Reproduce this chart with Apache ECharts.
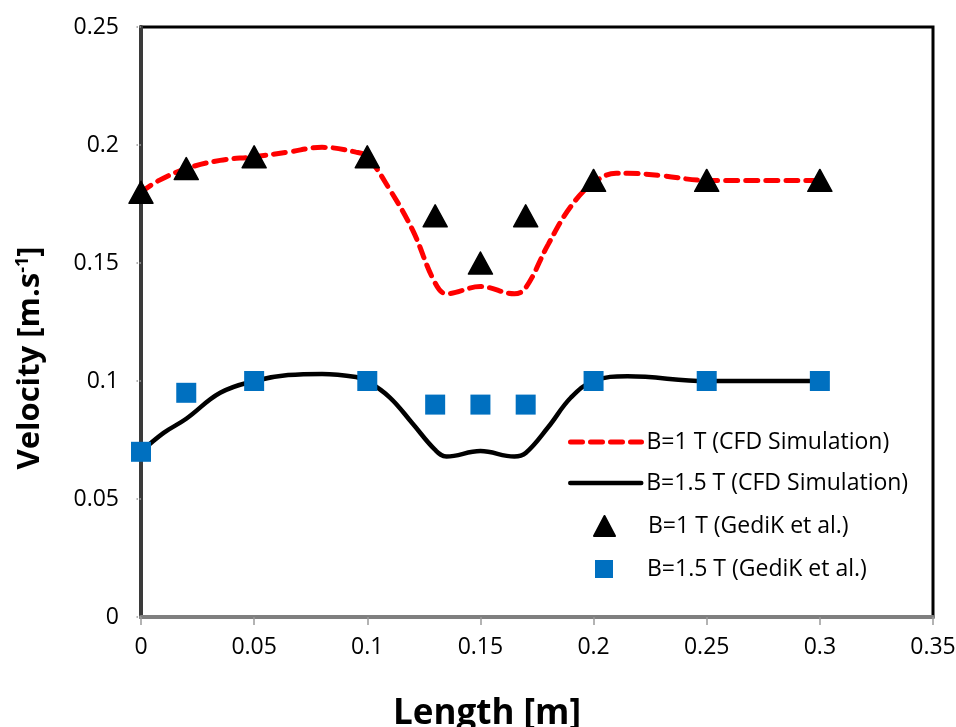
<!DOCTYPE html>
<html>
<head>
<meta charset="utf-8">
<script src="https://cdn.jsdelivr.net/npm/echarts@6/dist/echarts.min.js"></script>
<style>html,body{margin:0;padding:0;background:#fff}#c{width:956px;height:727px}</style>
</head>
<body>
<div id="c"></div>
<script>
// Experimental points (GediK et al.)
var expX = [0, 0.02, 0.05, 0.1, 0.13, 0.15, 0.17, 0.2, 0.25, 0.3];
var expB1 = [0.18, 0.19, 0.195, 0.195, 0.17, 0.15, 0.17, 0.185, 0.185, 0.185];
var expB15 = [0.07, 0.095, 0.1, 0.1, 0.09, 0.09, 0.09, 0.1, 0.1, 0.1];
// CFD simulation curves
var cfdX1 = [0, 0.008, 0.02, 0.035, 0.05, 0.065, 0.08, 0.095, 0.1, 0.11, 0.12, 0.13, 0.135, 0.15, 0.165, 0.17, 0.18, 0.19, 0.2, 0.21, 0.215, 0.23, 0.25, 0.3];
var cfdB1 = [0.18, 0.185, 0.19, 0.1935, 0.195, 0.197, 0.199, 0.197, 0.195, 0.181, 0.164, 0.1415, 0.137, 0.14, 0.137, 0.1395, 0.158, 0.174, 0.184, 0.188, 0.188, 0.187, 0.185, 0.185];
var cfdX15 = [0, 0.01, 0.02, 0.035, 0.05, 0.065, 0.08, 0.095, 0.1, 0.11, 0.12, 0.13, 0.135, 0.15, 0.165, 0.17, 0.18, 0.19, 0.2, 0.215, 0.25, 0.3];
var cfdB15 = [0.07, 0.078, 0.084, 0.095, 0.1, 0.1025, 0.103, 0.1017, 0.1, 0.093, 0.082, 0.0708, 0.068, 0.0703, 0.068, 0.0695, 0.0805, 0.093, 0.1, 0.102, 0.1, 0.1];
var names = ['B=1 T (CFD Simulation)', 'B=1.5 T (CFD Simulation)', 'B=1 T (GediK et al.)', 'B=1.5 T (GediK et al.)'];
var xTicks = {min: 0, max: 0.35, interval: 0.05};
var yTicks = {min: 0, max: 0.25, interval: 0.05};

function zip(a, b) { return a.map(function (v, i) { return [v, b[i]]; }); }

var FONT = 'Open Sans';
var legTxt = {fontSize: 23, lineHeight: 24, color: '#000', fontFamily: FONT};
function leg(name, left, top, w, h, pad, extra) {
  var o = {
    data: [name], orient: 'vertical', left: left, top: top, itemWidth: w, itemHeight: h,
    padding: 0, selectedMode: false,
    textStyle: Object.assign({}, legTxt, {padding: [0, 0, 0, pad]})
  };
  return Object.assign(o, extra || {});
}

var chart = echarts.init(document.getElementById('c'));
chart.setOption({
  animation: false,
  backgroundColor: '#fff',
  textStyle: {fontFamily: FONT},
  grid: {left: 141, right: 23, top: 27, bottom: 110, show: true, borderColor: '#000', borderWidth: 3,
         backgroundColor: 'transparent', containLabel: false, outerBoundsMode: 'none'},
  legend: [
    leg(names[0], 568, 430, 71, 24, 0, {itemStyle: {opacity: 0}, lineStyle: {width: 5}}),
    leg(names[1], 568, 471, 71, 24, 0, {itemStyle: {opacity: 0}, lineStyle: {width: 4.5}}),
    leg(names[2], 593, 514, 21, 20, 28),
    leg(names[3], 595, 557, 18, 18, 29)
  ],
  xAxis: {
    type: 'value', min: xTicks.min, max: xTicks.max, interval: xTicks.interval,
    name: 'Length [m]', nameLocation: 'middle', nameGap: 80,
    nameTextStyle: {fontSize: 35, fontWeight: 'bold', color: '#000', fontFamily: FONT, padding: [0, 100, 0, 0]},
    axisLine: {lineStyle: {color: '#7f7f7f', width: 4}},
    axisTick: {show: true, length: 8, lineStyle: {color: '#9a9a9a', width: 1.5}},
    axisLabel: {fontSize: 23, color: '#000', margin: 19, fontFamily: FONT},
    splitLine: {show: false}
  },
  yAxis: {
    type: 'value', min: yTicks.min, max: yTicks.max, interval: yTicks.interval,
    name: '{t|Velocity [m.s}{s|-1}{t|]}', nameLocation: 'middle', nameGap: 95, nameRotate: 90,
    nameTextStyle: {padding: [0, 72, 0, 0], rich: {
      t: {fontSize: 31, fontWeight: 'bold', color: '#000', fontFamily: FONT},
      s: {fontSize: 18, fontWeight: 'bold', color: '#000', fontFamily: FONT, verticalAlign: 'top', padding: [0, 0, 14, 0]}
    }},
    axisLine: {lineStyle: {color: '#3a3a3a', width: 4}},
    axisTick: {show: true, length: 6, lineStyle: {color: '#999', width: 1.5, type: 'dotted'}},
    axisLabel: {fontSize: 23, color: '#000', margin: 22, fontFamily: FONT},
    splitLine: {show: false}
  },
  series: [{
    name: names[0], type: 'line', data: zip(cfdX1, cfdB1), smooth: 0.4, showSymbol: false, symbol: 'none',
    itemStyle: {color: '#ff0000'},
    lineStyle: {color: '#ff0000', width: 5, type: [12, 8], cap: 'round'}, z: 2
  }, {
    name: names[1], type: 'line', data: zip(cfdX15, cfdB15), smooth: 0.4, showSymbol: false, symbol: 'none',
    itemStyle: {color: '#000'},
    lineStyle: {color: '#000', width: 4.5, cap: 'round'}, z: 2
  }, {
    name: names[2], type: 'scatter', data: zip(expX, expB1), symbol: 'triangle', symbolSize: [24, 22],
    itemStyle: {color: '#000', opacity: 1, borderColor: '#000', borderWidth: 1.5, borderJoin: 'round'}, z: 3
  }, {
    name: names[3], type: 'scatter', data: zip(expX, expB15), symbol: 'rect', symbolSize: 20,
    itemStyle: {color: '#0070c0', opacity: 1}, z: 4
  }]
});
</script>
</body>
</html>
